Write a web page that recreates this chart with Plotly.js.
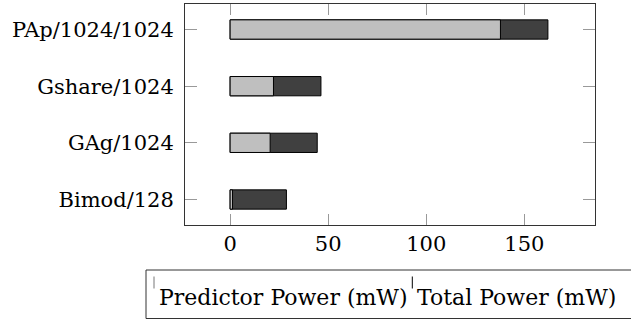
<!DOCTYPE html>
<html>
<head>
<meta charset="utf-8">
<script src="https://cdn.plot.ly/plotly-3.0.1.min.js"></script>
<style>html,body{margin:0;padding:0;background:#fff;}#chart{width:631px;height:322px;}</style>
</head>
<body>
<div id="chart"></div>
<script>
const categories = ["Bimod/128", "GAg/1024", "Gshare/1024", "PAp/1024/1024"];
const predictorPower = [1.2, 20.4, 22.1, 137.8];
const totalPower = [28.7, 44.4, 46.3, 162];
const seriesNames = ["Predictor Power (mW)", "Total Power (mW)"];
const xTickValues = [0, 50, 100, 150];

const FONT = "DejaVu Serif";
const FS = 21;
const LEGEND_FS = 22;
const LIGHT = "#bfbfbf", DARK = "#404040";

const traces = [
  {type: "bar", orientation: "h", y: categories, x: totalPower, name: seriesNames[1],
   marker: {color: DARK, line: {color: "#000", width: 1}}, width: 0.34, showlegend: false},
  {type: "bar", orientation: "h", y: categories, x: predictorPower, name: seriesNames[0],
   marker: {color: LIGHT, line: {color: "#000", width: 1}}, width: 0.34, showlegend: false}
];

const px = v => (v - 185) / 410;
const py = v => (225 - v) / 221;

const layout = {
  width: 631, height: 322,
  margin: {l: 185, r: 36, t: 4, b: 97, pad: 0},
  paper_bgcolor: "#fff", plot_bgcolor: "#fff",
  barmode: "overlay",
  showlegend: false,
  font: {family: FONT, size: FS, color: "#000"},
  xaxis: {
    range: [-23, 186], tickvals: xTickValues, ticktext: xTickValues.map(String),
    ticks: "inside", ticklen: 11, tickwidth: 1, tickcolor: "#999",
    showline: true, linecolor: "#333", linewidth: 1, mirror: "ticks",
    showgrid: false, zeroline: false,
    tickfont: {family: FONT, size: FS, color: "#000"}, ticklabelstandoff: 0
  },
  yaxis: {
    type: "category", categoryorder: "array", categoryarray: categories,
    range: [-0.45, 3.45],
    ticks: "inside", ticklen: 12, tickwidth: 1, tickcolor: "#999",
    showline: true, linecolor: "#333", linewidth: 1, mirror: "ticks",
    showgrid: false, zeroline: false,
    tickfont: {family: FONT, size: FS, color: "#000"}, ticklabelstandoff: 6
  },
  shapes: [
    {type: "rect", xref: "paper", yref: "paper", x0: px(146), x1: px(634), y0: py(318.5), y1: py(270),
     line: {color: "#333", width: 1}, fillcolor: "rgba(0,0,0,0)"},
    {type: "line", xref: "paper", yref: "paper", x0: px(154), x1: px(154), y0: py(276.5), y1: py(288.5),
     line: {color: "#777", width: 1}},
    {type: "line", xref: "paper", yref: "paper", x0: px(412.3), x1: px(412.3), y0: py(276.5), y1: py(288.5),
     line: {color: "#000", width: 1}}
  ],
  annotations: [
    {xref: "paper", yref: "paper", x: px(157), y: py(297), xanchor: "left", yanchor: "middle",
     text: seriesNames[0], showarrow: false, font: {family: FONT, size: LEGEND_FS, color: "#000"}},
    {xref: "paper", yref: "paper", x: px(415), y: py(297), xanchor: "left", yanchor: "middle",
     text: seriesNames[1], showarrow: false, font: {family: FONT, size: LEGEND_FS, color: "#000"}}
  ]
};

Plotly.newPlot("chart", traces, layout, {displayModeBar: false, staticPlot: true});
</script>
</body>
</html>
